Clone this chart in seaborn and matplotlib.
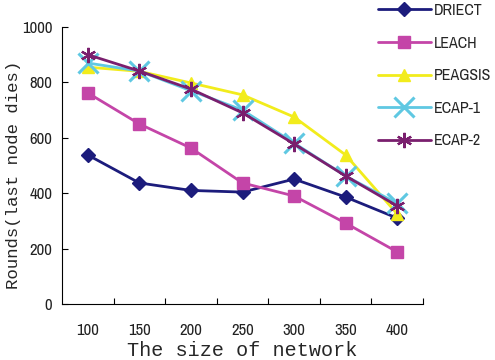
import matplotlib
matplotlib.use("Agg")
import matplotlib.pyplot as plt
import seaborn as sns
import numpy as np

sizes = ["100", "150", "200", "250", "300", "350", "400"]
driect = [538, 437, 410, 404, 451, 386, 310]
leach = [762, 650, 563, 437, 390, 292, 188]
peagsis = [855, 840, 798, 755, 675, 538, 325]
ecap1 = [870, 841, 770, 700, 581, 462, 363]
ecap2 = [900, 841, 776, 690, 578, 462, 354]

series = [
    ("DRIECT", driect, "#1c1c7c", "D", 7, 1),
    ("LEACH", leach, "#c445a8", "s", 9, 1),
    ("PEAGSIS", peagsis, "#f2ec1c", "^", 9, 1),
    ("ECAP-1", ecap1, "#5fc8e2", "x", 15, 2.2),
    ("ECAP-2", ecap2, "#7a1f6e", (6, 2, 0), 11, 1.6),
]

sns.set_style("white")
plt.rcParams["font.family"] = ["Archivo Narrow", "Liberation Sans Narrow", "DejaVu Sans"]

fig = plt.figure(figsize=(4.95, 3.6), dpi=100)
ax = fig.add_axes([62 / 495, 1 - 304 / 360, (423 - 62) / 495, (304 - 27) / 360])

for name, vals, col, mk, ms, mew in series:
    sns.lineplot(x=sizes, y=vals, ax=ax, color=col, marker=mk, markersize=ms,
                 markeredgewidth=mew, markeredgecolor=col, linewidth=2, label=name,
                 sort=False)

ax.set_ylim(0, 1000)
ax.set_xlim(-0.5, 6.5)
ax.set_yticks([0, 200, 400, 600, 800, 1000])
ax.set_xticks(range(7))
ax.set_xticklabels(sizes)
ax.set_xticks(np.arange(0.5, 7, 1), minor=True)
ax.tick_params(axis="x", which="major", length=0, pad=14, labelsize=12, labelcolor="#222222")
ax.tick_params(axis="x", which="minor", length=4, width=0.8, direction="in", color="black", bottom=True)
ax.tick_params(axis="y", which="major", length=4, width=0.8, direction="in", color="black", left=True,
               pad=7, labelsize=12, labelcolor="#222222")
for s in ["top", "right"]:
    ax.spines[s].set_visible(False)
for s in ["left", "bottom"]:
    ax.spines[s].set_color("black")
    ax.spines[s].set_linewidth(0.8)

ax.set_xlabel("The size of network", family="Liberation Mono", fontsize=14.5)
ax.xaxis.set_label_coords((242 - 62) / 361, -(341 - 304) / 277)
ax.set_ylabel("Rounds(last node dies)", family="Liberation Mono", fontsize=12.5)
ax.yaxis.set_label_coords(-(62 - 21) / 361, (304 - 175) / 277)

if ax.legend_:
    ax.legend_.remove()
handles, labels = ax.get_legend_handles_labels()
fig.legend(handles, labels, loc="upper left", bbox_to_anchor=(378 / 495, 1 - 3 / 360),
           bbox_transform=fig.transFigure, frameon=False, borderpad=0, borderaxespad=0,
           fontsize=11.5, labelspacing=1.1, handlelength=3.3, handletextpad=0.2)

fig.savefig("out.png", dpi=100)
